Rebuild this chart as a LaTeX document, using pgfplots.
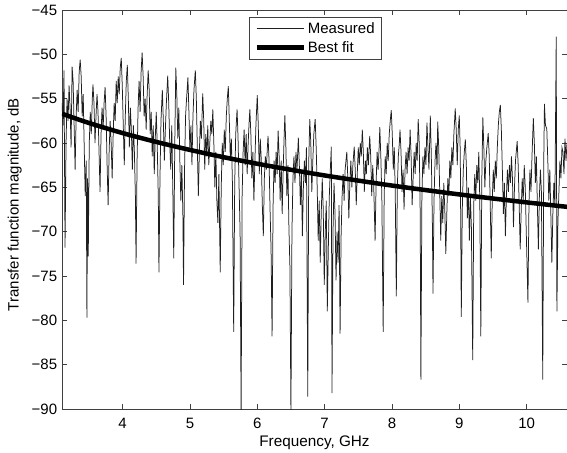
\documentclass[border=0pt]{standalone}
\usepackage{fontspec}
\setmainfont{Liberation Sans}
\usepackage{pgfplots}
\pgfplotsset{compat=1.18}
\usepackage{pgfplotstable}

\pgfplotstableread{
f db
3.100 -55.5
3.115 -58.0
3.130 -51.8
3.145 -71.8
3.160 -60.0
3.175 -55.0
3.190 -57.5
3.205 -53.5
3.220 -56.0
3.235 -60.5
3.250 -51.4
3.265 -53.0
3.280 -58.0
3.295 -63.0
3.310 -57.0
3.325 -54.0
3.340 -56.5
3.355 -52.0
3.370 -50.6
3.385 -52.5
3.400 -57.0
3.415 -54.5
3.430 -60.5
3.445 -66.0
3.460 -62.0
3.470 -79.7
3.480 -64.0
3.490 -72.8
3.505 -60.0
3.520 -56.5
3.535 -59.0
3.550 -55.0
3.560 -53.4
3.575 -55.5
3.590 -60.0
3.605 -57.0
3.620 -54.5
3.635 -56.5
3.650 -61.0
3.665 -65.5
3.680 -59.0
3.695 -56.0
3.710 -58.5
3.725 -55.5
3.740 -53.7
3.755 -57.0
3.770 -62.5
3.785 -67.0
3.800 -61.0
3.815 -57.5
3.830 -60.0
3.845 -64.0
3.860 -59.0
3.875 -55.5
3.890 -57.5
3.905 -53.0
3.920 -55.5
3.935 -52.5
3.950 -54.5
3.965 -51.5
3.980 -50.4
3.995 -53.5
4.010 -58.0
4.025 -62.5
4.040 -57.0
4.055 -53.0
4.070 -51.2
4.085 -55.0
4.100 -60.5
4.115 -56.0
4.130 -58.5
4.145 -63.0
4.160 -58.0
4.175 -61.0
4.190 -66.0
4.200 -73.6
4.215 -62.0
4.230 -56.0
4.245 -53.0
4.260 -56.5
4.275 -52.0
4.290 -49.8
4.305 -52.5
4.320 -57.0
4.335 -55.0
4.350 -58.5
4.365 -54.5
4.380 -51.8
4.395 -54.0
4.410 -59.0
4.425 -56.5
4.440 -61.5
4.455 -58.0
4.470 -63.5
4.485 -59.5
4.500 -56.5
4.515 -60.5
4.530 -66.0
4.540 -74.6
4.555 -64.0
4.570 -57.5
4.590 -54.0
4.605 -57.5
4.620 -62.0
4.635 -58.5
4.650 -55.5
4.670 -52.4
4.685 -55.5
4.700 -60.0
4.715 -63.0
4.730 -58.0
4.745 -65.0
4.760 -73.0
4.775 -60.0
4.790 -51.5
4.805 -54.5
4.820 -59.5
4.835 -56.0
4.850 -62.0
4.865 -66.5
4.880 -62.5
4.895 -68.0
4.905 -76.0
4.920 -63.0
4.935 -57.0
4.950 -55.0
4.970 -52.6
4.985 -56.5
5.000 -61.0
5.015 -58.0
5.030 -62.5
5.045 -57.0
5.060 -54.0
5.080 -51.8
5.095 -55.0
5.110 -60.5
5.125 -66.0
5.140 -61.0
5.155 -57.5
5.170 -59.5
5.190 -54.4
5.205 -57.5
5.220 -63.0
5.235 -59.0
5.250 -61.5
5.265 -58.0
5.280 -62.5
5.295 -60.0
5.310 -57.5
5.325 -59.0
5.340 -56.2
5.355 -60.0
5.370 -65.0
5.385 -61.0
5.400 -66.5
5.415 -69.0
5.430 -63.5
5.450 -74.6
5.465 -65.0
5.480 -60.0
5.495 -62.5
5.510 -58.5
5.525 -61.0
5.540 -57.0
5.555 -55.0
5.570 -53.6
5.585 -57.5
5.600 -62.0
5.615 -59.5
5.630 -64.0
5.650 -81.3
5.665 -64.5
5.680 -59.0
5.700 -56.2
5.715 -59.5
5.730 -65.0
5.745 -70.0
5.760 -90.5
5.775 -66.0
5.790 -61.0
5.805 -58.5
5.820 -62.5
5.835 -59.0
5.850 -63.5
5.865 -60.0
5.880 -57.5
5.890 -56.2
5.905 -59.0
5.920 -64.0
5.935 -61.0
5.950 -66.5
5.965 -62.0
5.980 -58.0
6.000 -54.6
6.015 -58.0
6.030 -63.5
6.045 -59.5
6.060 -62.0
6.075 -67.0
6.090 -70.5
6.105 -64.0
6.120 -61.5
6.135 -63.0
6.150 -60.5
6.160 -59.2
6.175 -62.0
6.190 -67.5
6.205 -72.0
6.220 -81.8
6.235 -67.0
6.250 -62.0
6.265 -64.5
6.280 -61.0
6.295 -63.5
6.310 -58.6
6.325 -61.5
6.340 -66.5
6.355 -62.0
6.370 -68.0
6.385 -63.0
6.400 -59.0
6.410 -56.9
6.425 -60.5
6.440 -66.0
6.455 -62.5
6.470 -69.5
6.485 -74.0
6.500 -90.5
6.515 -70.0
6.530 -64.0
6.545 -61.5
6.560 -64.5
6.575 -61.0
6.590 -63.0
6.610 -59.4
6.625 -62.5
6.640 -67.0
6.655 -63.5
6.670 -70.5
6.685 -65.0
6.700 -62.0
6.715 -64.5
6.730 -60.5
6.750 -88.6
6.765 -62.0
6.780 -57.3
6.795 -60.0
6.810 -65.5
6.825 -62.0
6.840 -59.0
6.860 -57.3
6.875 -60.5
6.890 -65.0
6.905 -71.0
6.920 -66.5
6.935 -73.5
6.950 -68.0
6.965 -64.0
6.980 -67.5
6.995 -76.0
7.010 -70.0
7.025 -66.5
7.040 -79.0
7.055 -72.0
7.070 -66.0
7.085 -63.0
7.100 -60.4
7.110 -88.2
7.125 -70.0
7.140 -64.5
7.155 -68.0
7.170 -75.5
7.185 -70.0
7.200 -73.5
7.215 -67.0
7.230 -81.5
7.245 -70.5
7.260 -66.0
7.275 -63.5
7.290 -66.5
7.305 -63.0
7.330 -61.0
7.345 -64.0
7.360 -68.5
7.375 -64.5
7.390 -62.0
7.405 -65.0
7.420 -62.5
7.440 -60.4
7.455 -63.0
7.470 -67.0
7.485 -63.5
7.500 -60.5
7.515 -62.5
7.530 -60.0
7.545 -61.5
7.560 -58.5
7.575 -61.0
7.590 -65.5
7.605 -62.0
7.620 -63.5
7.635 -60.5
7.650 -62.5
7.670 -59.2
7.685 -61.5
7.700 -66.0
7.715 -62.5
7.730 -65.0
7.750 -71.0
7.765 -64.5
7.780 -61.0
7.795 -63.0
7.810 -60.5
7.820 -58.2
7.835 -61.5
7.850 -66.0
7.870 -81.3
7.885 -66.0
7.900 -61.5
7.915 -63.5
7.930 -60.0
7.945 -62.0
7.960 -59.0
7.975 -57.5
7.990 -56.3
8.005 -59.0
8.020 -63.0
8.035 -60.5
8.050 -66.0
8.065 -77.3
8.080 -65.0
8.095 -61.5
8.110 -60.0
8.120 -58.5
8.135 -61.0
8.150 -65.5
8.165 -63.0
8.180 -67.5
8.195 -63.0
8.210 -61.0
8.225 -63.5
8.240 -60.5
8.255 -62.0
8.270 -58.5
8.285 -61.5
8.300 -67.0
8.315 -64.0
8.330 -61.0
8.345 -63.5
8.360 -60.0
8.375 -62.0
8.390 -57.3
8.405 -60.0
8.420 -68.0
8.430 -86.7
8.445 -66.0
8.460 -61.5
8.475 -63.5
8.490 -60.5
8.505 -62.5
8.520 -57.7
8.535 -60.5
8.550 -63.0
8.570 -56.9
8.585 -61.5
8.600 -68.5
8.610 -77.0
8.625 -66.5
8.640 -62.0
8.655 -60.0
8.670 -63.0
8.680 -57.6
8.695 -60.5
8.710 -65.5
8.725 -71.0
8.740 -66.0
8.755 -69.0
8.770 -64.5
8.785 -67.5
8.800 -72.5
8.815 -68.0
8.830 -64.0
8.845 -66.0
8.860 -62.0
8.875 -64.0
8.890 -60.5
8.905 -62.5
8.920 -59.0
8.940 -56.1
8.955 -58.5
8.970 -62.5
8.985 -58.5
9.000 -56.9
9.015 -61.0
9.030 -79.6
9.045 -67.5
9.060 -63.0
9.075 -61.0
9.090 -59.6
9.105 -62.5
9.120 -68.5
9.135 -65.0
9.150 -71.0
9.165 -66.0
9.180 -69.5
9.200 -84.5
9.215 -67.0
9.230 -63.5
9.245 -66.5
9.260 -62.5
9.275 -64.5
9.290 -61.0
9.305 -66.5
9.320 -81.8
9.335 -64.0
9.350 -57.1
9.365 -60.5
9.380 -65.0
9.395 -62.0
9.410 -60.5
9.430 -58.9
9.445 -61.5
9.460 -67.0
9.475 -73.0
9.490 -66.5
9.505 -63.0
9.520 -65.5
9.535 -62.0
9.550 -64.0
9.565 -60.5
9.580 -58.0
9.595 -56.5
9.610 -55.7
9.625 -58.5
9.640 -63.0
9.655 -68.0
9.670 -64.5
9.685 -70.5
9.700 -66.0
9.715 -63.0
9.730 -65.5
9.745 -62.5
9.760 -64.5
9.775 -61.5
9.790 -64.0
9.805 -69.5
9.820 -65.0
9.835 -62.0
9.860 -59.8
9.875 -62.5
9.890 -67.0
9.905 -72.0
9.920 -67.5
9.935 -64.0
9.950 -66.5
9.965 -62.5
9.980 -65.0
9.995 -70.0
10.020 -78.0
10.035 -67.0
10.050 -63.0
10.065 -65.5
10.080 -61.5
10.100 -57.2
10.115 -60.0
10.130 -64.5
10.145 -61.5
10.160 -67.0
10.175 -72.0
10.190 -66.0
10.205 -63.0
10.220 -65.5
10.240 -86.7
10.255 -62.0
10.265 -55.6
10.280 -58.0
10.300 -58.4
10.315 -62.0
10.330 -66.5
10.345 -63.0
10.360 -68.0
10.375 -73.5
10.390 -68.0
10.405 -64.5
10.420 -67.0
10.440 -48.0
10.450 -79.0
10.465 -69.0
10.480 -65.5
10.495 -62.0
10.510 -64.0
10.525 -60.5
10.540 -61.0
10.555 -63.5
10.570 -59.5
10.585 -62.0
10.600 -60.0
}\measured

\pgfplotstableread{
f db
3.1 -56.70
3.5 -57.74
4.0 -58.88
4.5 -59.88
5.0 -60.78
5.5 -61.60
6.0 -62.34
6.5 -63.02
7.0 -63.66
7.5 -64.24
8.0 -64.80
8.5 -65.31
9.0 -65.80
9.5 -66.26
10.0 -66.70
10.6 -67.20
}\bestfit

\begin{document}
\begin{tikzpicture}
\begin{axis}[
  scale only axis,
  width=505pt, height=399pt,
  xmin=3.1, xmax=10.6,
  ymin=-90, ymax=-45,
  xtick={4,5,6,7,8,9,10},
  ytick={-90,-85,-80,-75,-70,-65,-60,-55,-50,-45},
  yticklabels={−90,−85,−80,−75,−70,−65,−60,−55,−50,−45},
  /pgf/number format/assume math mode=true,
  tick align=inside,
  major tick length=5pt,
  axis line style={black!75},
  every tick/.style={black!75},
  tick label style={font=\fontsize{15}{18}\selectfont},
  yticklabel style={inner sep=0pt, anchor=east, xshift=-4.7pt},
  xticklabel style={inner sep=0pt, anchor=north, yshift=-9pt},
  xlabel={Frequency, GHz},
  ylabel={Transfer function magnitude, dB},
  every axis x label/.style={at={(axis description cs:0.5,-0.0952)}, anchor=base,
    inner sep=0pt, font=\fontsize{15.3}{18}\selectfont},
  every axis y label/.style={at={(axis description cs:-0.0861,0.512)}, anchor=base,
    rotate=90, inner sep=0pt, font=\fontsize{15}{18}\selectfont},
  clip=true,
  legend style={at={(0.502,0.9825)}, anchor=north, draw=black!75,
    font=\fontsize{15}{17}\selectfont, inner xsep=5pt, inner ysep=3pt,
    row sep=3pt, nodes={inner sep=2pt},
    legend cell align=left},
  legend image code/.code={\draw[#1] (0pt,0pt) -- (47pt,0pt);},
]
\addplot[black!88, line width=0.75pt] table[x=f, y=db] {\measured};
\addlegendentry{Measured}
\addplot[black, line width=4.5pt, smooth] table[x=f, y=db] {\bestfit};
\addlegendentry{Best fit}
\end{axis}
\pgfresetboundingbox
\path ([shift={(-62pt,10pt)}]current axis.north west) rectangle ([shift={(0pt,-43pt)}]current axis.south east);
\end{tikzpicture}
\end{document}
